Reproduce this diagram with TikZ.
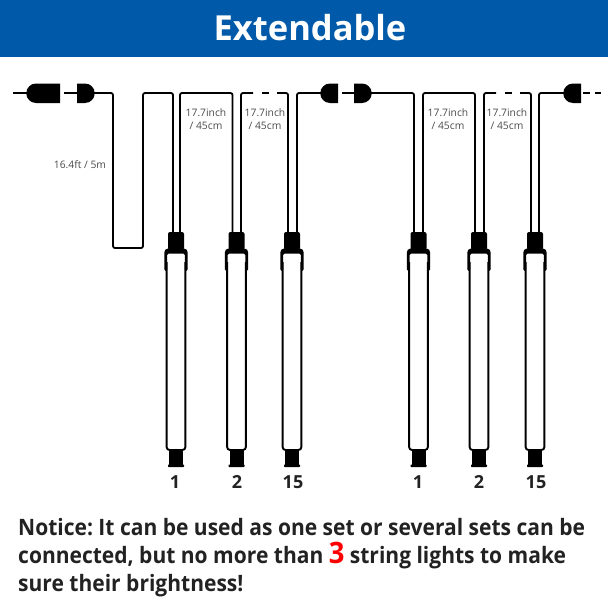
\documentclass[tikz,border=0pt]{standalone}
\usepackage{fontspec}
\setmainfont{Open Sans}
\newfontfamily\noticefont[FakeStretch=0.93]{Open Sans}
\definecolor{banner}{HTML}{0059A9}
\definecolor{ink}{HTML}{222222}
\definecolor{lbl}{HTML}{4A4A4A}
\tikzset{
  wire/.style={draw=black,line width=1.8pt,rounded corners=2pt},
  dim/.style={text=lbl,font=\fontsize{10.3}{13}\selectfont,align=center,inner sep=0pt},
  num/.style={text=ink,font=\bfseries\fontsize{18}{20}\selectfont,inner sep=0pt},
  notice/.style={text=ink,font=\noticefont\bfseries\fontsize{22.6}{23}\selectfont,anchor=west,inner sep=0pt},
  pics/lamp/.style={code={
    \fill[black,rounded corners=2pt] (-8,0) -- (8,0) -- (8,18) -- (-8,18) -- cycle;
    \draw[black,line width=1.9pt,rounded corners=3pt] (-9.4,30) -- (-9.4,218) -- (9.4,218) -- (9.4,30);
    \fill[black,rounded corners=1.5pt] (-11.7,39) -- (-11.7,19) -- (-9.5,16.5) -- (9.5,16.5) -- (11.7,19) -- (11.7,39) -- (8.8,39) -- (8.8,21.5) -- (-8.8,21.5) -- (-8.8,39) -- cycle;
    \fill[black] (-7,218) rectangle (7,233);
    \fill[black,rounded corners=.6pt] (-8,232.5) rectangle (8,235);
  }}
}
\begin{document}
\frenchspacing
\begin{tikzpicture}[x=1pt,y=-1pt]
\useasboundingbox (0,0) rectangle (608,608);
\fill[banner] (0,0) rectangle (608,57);
\node[text=white,font=\bfseries\fontsize{34.5}{36}\selectfont,inner sep=0pt] (title) at (310,28) {Extendable};

% plugs
\fill[black] (60,83.5) -- (36,83.5) arc (270:90:9.75) -- (60,103) -- cycle;
\fill[black] (77,83.5) -- (85,83.5) arc (-90:90:9.75) -- (77,103) -- cycle;
\fill[black] (338,83.5) -- (330,83.5) arc (270:90:9.75) -- (338,103) -- cycle;
\fill[black] (354,83.5) -- (362,83.5) arc (-90:90:9.75) -- (354,103) -- cycle;
\fill[black] (581,83.5) -- (573,83.5) arc (270:90:9.75) -- (581,103) -- cycle;
\coordinate (a0) at (13,93);
\coordinate (a1) at (30,93);
\coordinate (b0) at (64,93);
\coordinate (b1) at (80,93);
\draw[wire] (a0) -- (a1);
\draw[wire] (b0) -- (b1);

% first group wiring
\draw[wire] (b1) -- (113,93) -- (113,248) -- (143,248) -- (143,93) -- (173,93) -- (173,234);
\draw[wire] (180,234) -- (180,93) -- (232.5,93) -- (232.5,234);
\draw[wire] (241,234) -- (241,93) -- (253,93);
\draw[wire] (262,93) -- (269,93);
\draw[wire] (277,93) -- (288,93) -- (288,234);
\draw[wire] (297,234) -- (297,93) -- (325,93);

% second group wiring
\draw[wire] (342,93) -- (358,93);
\draw[wire] (360,93) -- (414,93) -- (414,234);
\draw[wire] (423,234) -- (423,93) -- (475,93) -- (475,234);
\draw[wire] (484,234) -- (484,93) -- (496,93);
\draw[wire] (505,93) -- (512,93);
\draw[wire] (520,93) -- (531,93) -- (531,234);
\draw[wire] (539,234) -- (539,93) -- (568,93);
\draw[wire] (583,93) -- (590,93);
\draw[wire] (595,93) -- (601,93);

% lamps
\foreach \x in {176,236.5,292,418.5,479,535} {
  \pic at (\x,232) {lamp};
}

% labels
\node[dim] (d0) at (80,165) {16.4ft / 5m};
\node[dim] (d1) at (206,119) {17.7inch\\/ 45cm};
\node[dim] (d2) at (265,119) {17.7inch\\/ 45cm};
\node[dim] (d3) at (448,119) {17.7inch\\/ 45cm};
\node[dim] (d4) at (507,119) {17.7inch\\/ 45cm};

\node[num] (n1) at (175,482) {1};
\node[num] (n2) at (237,482) {2};
\node[num] (n3) at (293,482) {15};
\node[num] (n4) at (418,482) {1};
\node[num] (n5) at (479,482) {2};
\node[num] (n6) at (536,482) {15};

% notice
\node[notice] (t1) at (18,527) {Notice: It can be used as one set or several sets can be};
\node[notice] (t2) at (18,556) {connected, but no more than \textcolor{red}{\fontsize{29.5}{29}\selectfont 3} string lights to make};
\node[notice] (t3) at (18,586) {sure their brightness!};
\end{tikzpicture}
\end{document}
